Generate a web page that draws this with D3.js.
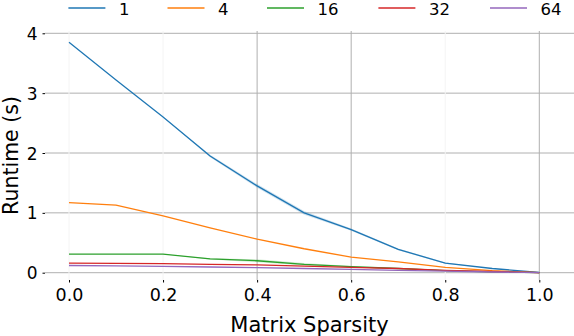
<!DOCTYPE html>
<meta charset="utf-8">
<head>
    <script src="https://d3js.org/d3.v7.min.js"></script>
    <style>
        body { margin: 0; background: #fff; }
        text { font-family: "DejaVu Sans", sans-serif; fill: #000; }
    </style>
</head>
<body>
<div id="my_dataviz"></div>
<script>

// data
var sparsity = [0.0, 0.1, 0.2, 0.3, 0.4, 0.5, 0.6, 0.7, 0.8, 0.9, 1.0];
var series = ["1", "4", "16", "32", "64"];
var colors = ["#1f77b4", "#ff7f0e", "#2ca02c", "#d62728", "#9467bd"];
var run1  = [3.85, 3.22, 2.60, 1.95, 1.45, 1.00, 0.72, 0.39, 0.16, 0.07, 0.003];
var run4  = [1.17, 1.13, 0.95, 0.75, 0.56, 0.40, 0.26, 0.18, 0.09, 0.035, 0.0];
var run16 = [0.31, 0.31, 0.31, 0.23, 0.20, 0.14, 0.10, 0.07, 0.035, 0.015, 0.0];
var run32 = [0.16, 0.155, 0.15, 0.14, 0.13, 0.11, 0.09, 0.07, 0.04, 0.02, 0.0];
var run64 = [0.12, 0.115, 0.105, 0.095, 0.085, 0.07, 0.055, 0.04, 0.025, 0.012, 0.0];
var runs = [run1, run4, run16, run32, run64];
// faint error bands (half widths) seen around some lines
var err1  = [0, 0, 0, 0.02, 0.03, 0.03, 0.02, 0.015, 0.01, 0, 0];
var err16 = [0, 0, 0, 0.01, 0.025, 0.02, 0.012, 0.01, 0.005, 0, 0];
var xTicks = [0.0, 0.2, 0.4, 0.6, 0.8, 1.0];
var yTicks = [0, 1, 2, 3, 4];
// vertical grid lines that show dark in the picture
var darkX = [0.4, 0.6, 1.0];

var width = 574, height = 336;
var plotLeft = 45, plotTop = 31, plotBottom = 280;

var svg = d3.select("#my_dataviz")
    .append("svg")
    .attr("width", width)
    .attr("height", height);

var x = d3.scaleLinear()
    .domain([0, 1])
    .range([69, 539.3]);
var y = d3.scaleLinear()
    .domain([0, 4])
    .range([272.7, 33.3]);

// horizontal grid
svg.append("g")
    .selectAll("line")
    .data(yTicks)
    .enter()
    .append("line")
        .attr("x1", plotLeft).attr("x2", width)
        .attr("y1", function(d) { return y(d); })
        .attr("y2", function(d) { return y(d); })
        .attr("stroke", "#b0b0b0")
        .attr("stroke-width", 1);

// vertical grid
svg.append("g")
    .selectAll("line")
    .data(xTicks)
    .enter()
    .append("line")
        .attr("x1", function(d) { return x(d); })
        .attr("x2", function(d) { return x(d); })
        .attr("y1", plotTop).attr("y2", plotBottom)
        .attr("stroke", function(d) { return darkX.indexOf(d) >= 0 ? "#b0b0b0" : "#f4f4f4"; })
        .attr("stroke-width", 1);

// Y axis
var yAxis = svg.append("g")
    .attr("transform", "translate(" + plotLeft + ",0)")
    .call(d3.axisLeft(y).tickValues(yTicks).tickSize(2.5).tickPadding(5).tickFormat(d3.format("d")));
yAxis.select(".domain").remove();
yAxis.selectAll("line").attr("stroke", "#000");
yAxis.selectAll("text").style("font-size", "17px").attr("dy", "0.36em");

// X axis
var xAxis = svg.append("g")
    .attr("transform", "translate(0," + plotBottom + ")")
    .call(d3.axisBottom(x).tickValues(xTicks).tickSize(2.5).tickPadding(6).tickFormat(d3.format(".1f")));
xAxis.select(".domain").remove();
xAxis.selectAll("line").attr("stroke", "#000");
xAxis.selectAll("text").style("font-size", "17.5px");

// axis labels
svg.append("text")
    .attr("text-anchor", "middle")
    .attr("x", (plotLeft + width) / 2)
    .attr("y", 331.5)
    .text("Matrix Sparsity").style("font-size", "21px");

svg.append("text")
    .attr("text-anchor", "middle")
    .attr("transform", "translate(17.5," + (plotTop + plotBottom) / 2 + ") rotate(-90)")
    .text("Runtime (s)").style("font-size", "20.5px");

// error bands
var area = d3.area()
    .x(function(d, i) { return x(sparsity[i]); })
    .y0(function(d) { return y(d[0] - d[1]); })
    .y1(function(d) { return y(d[0] + d[1]); });
[[run1, err1, colors[0]], [run16, err16, colors[2]]].forEach(function(b) {
    svg.append("path")
        .datum(b[0].map(function(v, i) { return [v, b[1][i]]; }))
        .attr("fill", b[2])
        .attr("opacity", 0.2)
        .attr("d", area);
});

// lines
var line = d3.line()
    .x(function(d, i) { return x(sparsity[i]); })
    .y(function(d) { return y(d); });

runs.forEach(function(r, k) {
    svg.append("path")
        .datum(r)
        .attr("fill", "none")
        .attr("stroke", colors[k])
        .attr("stroke-width", 1.3)
        .attr("d", line);
});

// legend
var legend = svg.append("g");
var legX = [68.4, 167.5, 267, 378.4, 490];
series.forEach(function(s, k) {
    legend.append("line")
        .attr("x1", legX[k]).attr("x2", legX[k] + 37)
        .attr("y1", 8).attr("y2", 8)
        .attr("stroke", colors[k])
        .attr("stroke-width", 1.3);
    legend.append("text")
        .attr("x", legX[k] + 50.5)
        .attr("y", 14.5)
        .text(s).style("font-size", "16.5px");
});
</script>
</body>
</html>
